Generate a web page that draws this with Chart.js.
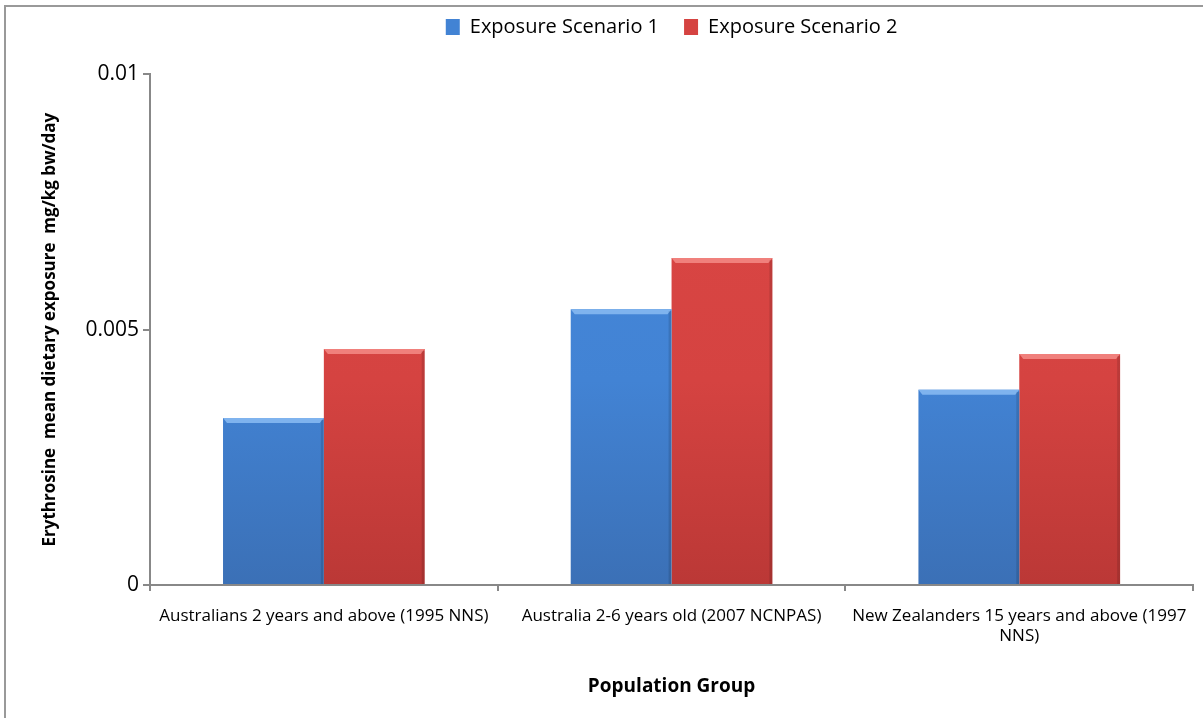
<!DOCTYPE html>
<html>
<head>
<meta charset="utf-8">
<script src="https://cdn.jsdelivr.net/npm/chart.js@4.4.1/dist/chart.umd.min.js"></script>
<style>
html,body{margin:0;padding:0;background:#fff;}
#wrap{position:relative;width:1203px;height:718px;overflow:hidden;}
#frame{position:absolute;left:4px;top:5px;width:1300px;height:800px;border-top:2px solid #999;border-left:2px solid #999;}
canvas{position:absolute;left:0;top:0;}
</style>
</head>
<body>
<div id="wrap"><div id="frame"></div><canvas id="c" width="1203" height="718"></canvas></div>
<script>
const categories=['Australians 2 years and above (1995 NNS)','Australia 2-6 years old (2007 NCNPAS)',['New Zealanders 15 years and above (1997','NNS)']];
const scenario1=[0.00327,0.0054,0.00382];
const scenario2=[0.00462,0.0064,0.00452];
const yTicks=[0,0.005,0.01];

const FONT='"Open Sans", Lato, sans-serif';

function grad(ctx,top,mid,bot){
  const c=ctx.chart, a=c.chartArea;
  if(!a) return mid;
  const g=c.ctx.createLinearGradient(0,a.top,0,a.bottom);
  g.addColorStop(0,top); g.addColorStop(0.6,mid); g.addColorStop(1,bot);
  return g;
}

// lighter bevel strip along the top of each bar
const bevel={id:'bevel',afterDatasetsDraw(chart){
  const cx=chart.ctx;
  chart.data.datasets.forEach((ds,i)=>{
    chart.getDatasetMeta(i).data.forEach(b=>{
      const l=b.x-b.width/2, w=b.width;
      cx.save();
      cx.fillStyle=ds.bevel;
      cx.beginPath();
      cx.moveTo(l,b.y); cx.lineTo(l+w,b.y); cx.lineTo(l+w-4,b.y+5); cx.lineTo(l+4,b.y+5); cx.closePath(); cx.fill();
      cx.fillStyle='rgba(0,0,0,0.12)';
      cx.fillRect(l+w-3,b.y+2,3,b.base-b.y-2);
      cx.restore();
    });
  });
}};

new Chart(document.getElementById('c'),{
  type:'bar',
  data:{labels:categories,datasets:[
    {label:'Exposure Scenario 1',data:scenario1,bevel:'#7fb3ee',
     backgroundColor:c=>grad(c,'#4789dc','#4283d4','#3b70b6')},
    {label:'Exposure Scenario 2',data:scenario2,bevel:'#f0807c',
     backgroundColor:c=>grad(c,'#dc4745','#d54341','#bb3836')}
  ]},
  options:{
    responsive:false,animation:false,
    layout:{padding:{left:0,right:9,top:-8,bottom:0}},
    datasets:{bar:{categoryPercentage:0.58,barPercentage:1}},
    plugins:{
      legend:{position:'top',fullSize:false,labels:{boxWidth:14,boxHeight:16,padding:25,color:'#000',font:{family:FONT,size:20},
        generateLabels:ch=>ch.data.datasets.map((d,i)=>({text:d.label,fillStyle:i?'#d54341':'#4283d4',strokeStyle:i?'#d54341':'#4283d4',lineWidth:0,datasetIndex:i}))}},
      // empty spacer between the legend and the plot
      title:{display:true,text:'',weight:500,font:{size:1},padding:{top:26,bottom:0}},
      tooltip:{enabled:false}
    },
    scales:{
      x:{
        grid:{display:true,drawOnChartArea:false,tickLength:6,color:'#888',lineWidth:2},
        border:{color:'#888',width:2},
        ticks:{color:'#000',font:{family:FONT,size:17},maxRotation:0,autoSkip:false,padding:15},
        title:{display:true,text:'Population Group',color:'#000',font:{family:FONT,size:19,weight:'bold'},padding:{top:10,bottom:20}},
        afterFit:s=>{s.height=133;}
      },
      y:{
        min:0,max:0.01,
        afterBuildTicks:s=>{s.ticks=yTicks.map(v=>({value:v}));},
        grid:{display:true,drawOnChartArea:false,tickLength:7,color:'#888',lineWidth:2},
        border:{color:'#888',width:2},
        ticks:{color:'#000',font:{family:FONT,size:21},padding:4,callback:v=>String(v)},
        title:{display:true,text:'Erythrosine  mean dietary exposure  mg/kg bw/day',color:'#000',font:{family:FONT,size:17,weight:'bold'},padding:{top:40,bottom:4}},
        afterFit:s=>{s.width=150;}
      }
    }
  },
  plugins:[bevel]
});
</script>
</body>
</html>
